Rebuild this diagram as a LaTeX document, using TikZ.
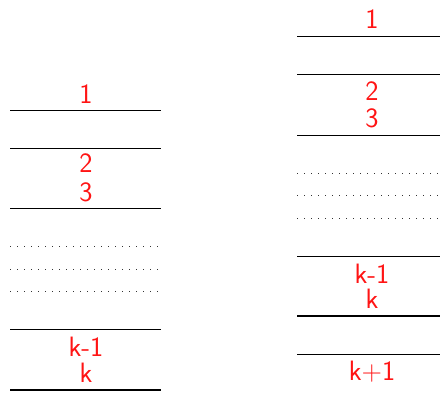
\documentclass[tikz,border=0pt]{standalone}
\usepackage{fontspec}
\definecolor{lbl}{RGB}{255,20,20}
\begin{document}
\begin{tikzpicture}[x=1pt,y=-1pt]
\tikzset{
  lab/.style={anchor=base,text=lbl,inner sep=0pt,font=\sffamily\fontsize{28pt}{30pt}\selectfont},
  rule/.style={line width=0.9pt,black},
  thickrule/.style={line width=2.6pt,black},
  dotrule/.style={line width=0.7pt,black!80,dash pattern=on 0.7pt off 6.3pt}}
\useasboundingbox (0,0) rectangle (440,392);
% left stack
\draw[rule] (10,110) -- (161,110);
\draw[rule] (10,148) -- (161,148);
\draw[rule] (10,208) -- (161,208);
\draw[dotrule] (10,246) -- (161,246);
\draw[dotrule] (10,269) -- (161,269);
\draw[dotrule] (10,291) -- (161,291);
\draw[rule] (10,329) -- (161,329);
\draw[thickrule] (10,390) -- (161,390);
\node[lab] (l1) at (86,103) {1};
\node[lab] (l2) at (86,172) {2};
\node[lab] (l3) at (86,201) {3};
\node[lab] (lkm) at (86,356) {k-1};
\node[lab] (lk) at (86,382) {k};
% right stack
\draw[rule] (297,36) -- (440,36);
\draw[rule] (297,74) -- (440,74);
\draw[rule] (297,135) -- (440,135);
\draw[dotrule] (297,173) -- (440,173);
\draw[dotrule] (297,195) -- (440,195);
\draw[dotrule] (297,218) -- (440,218);
\draw[rule] (297,256) -- (440,256);
\draw[thickrule] (297,316) -- (440,316);
\draw[rule] (297,354) -- (440,354);
\node[lab] (r1) at (372,28.5) {1};
\node[lab] (r2) at (372,100) {2};
\node[lab] (r3) at (372,127) {3};
\node[lab] (rkm) at (372,283) {k-1};
\node[lab] (rk) at (372,308) {k};
\node[lab] (rkp) at (372,380) {k+1};
\end{tikzpicture}
\end{document}
